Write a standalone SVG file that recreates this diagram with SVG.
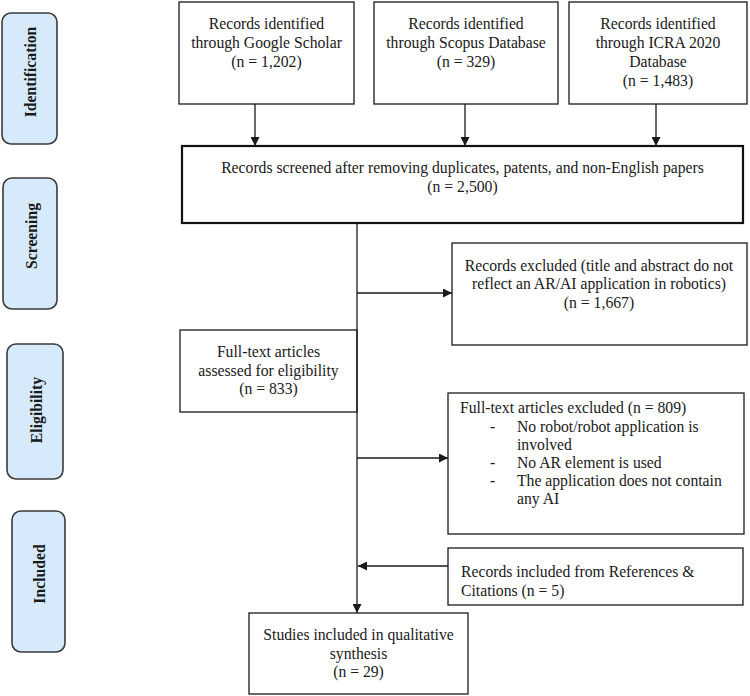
<svg xmlns="http://www.w3.org/2000/svg" width="750" height="696" viewBox="0 0 750 696">
<style>
  .box { fill: #ffffff; stroke: #1a1a1a; stroke-width: 1.3; }
  .main { fill: #ffffff; stroke: #111111; stroke-width: 2.2; }
  .phase { fill: #d7eafc; stroke: #3a3a3a; stroke-width: 1.6; }
  .t { font-family: "Liberation Serif", "Times New Roman", serif; font-size: 15.7px; fill: #1a1a1a; }
  .c { text-anchor: middle; }
  .ph { font-family: "Liberation Serif", "Times New Roman", serif; font-size: 15.7px; font-weight: bold; fill: #1a1a1a; text-anchor: middle; dominant-baseline: central; }
  .ln { stroke: #1a1a1a; stroke-width: 1.3; fill: none; }
</style>
<defs>
  <marker id="ah" viewBox="0 0 10 10" refX="10" refY="5" markerWidth="10" markerHeight="9" markerUnits="userSpaceOnUse" orient="auto">
    <path d="M0,0 L10,5 L0,10 z" fill="#1a1a1a"/>
  </marker>
</defs>

<g id="phase-identification">
  <rect class="phase" x="2" y="13" width="55" height="131" rx="9"/>
  <text class="ph" transform="translate(30,72) rotate(-90)">Identification</text>
</g>
<g id="phase-screening">
  <rect class="phase" x="3" y="178" width="54" height="131" rx="9"/>
  <text class="ph" transform="translate(31.5,236) rotate(-90)">Screening</text>
</g>
<g id="phase-eligibility">
  <rect class="phase" x="7" y="344" width="56" height="135" rx="9"/>
  <text class="ph" transform="translate(36.5,410) rotate(-90)">Eligibility</text>
</g>
<g id="phase-included">
  <rect class="phase" x="12" y="511" width="53" height="141" rx="9"/>
  <text class="ph" transform="translate(39,574) rotate(-90)">Included</text>
</g>

<g id="src-google">
  <rect class="box" x="179" y="2" width="175" height="102"/>
  <text class="t c" x="266.5" y="28.5">Records identified</text>
  <text class="t c" x="266.5" y="47.5">through Google Scholar</text>
  <text class="t c" x="266.5" y="66.5">(n = 1,202)</text>
</g>
<g id="src-scopus">
  <rect class="box" x="374" y="2" width="184" height="102"/>
  <text class="t c" x="466" y="28.5">Records identified</text>
  <text class="t c" x="466" y="47.5">through Scopus Database</text>
  <text class="t c" x="466" y="66.5">(n = 329)</text>
</g>
<g id="src-icra">
  <rect class="box" x="569" y="2" width="178" height="102"/>
  <text class="t c" x="658" y="28.5">Records identified</text>
  <text class="t c" x="658" y="47.5">through ICRA 2020</text>
  <text class="t c" x="658" y="66.5">Database</text>
  <text class="t c" x="658" y="85.5">(n = 1,483)</text>
</g>
<g id="screened">
  <rect class="main" x="182" y="146" width="561" height="77"/>
  <text class="t c" x="462.5" y="173">Records screened after removing duplicates, patents, and non-English papers</text>
  <text class="t c" x="462.5" y="192">(n = 2,500)</text>
</g>
<g id="excluded-records">
  <rect class="box" x="452" y="243" width="295" height="102"/>
  <text class="t c" x="599" y="270.5">Records excluded (title and abstract do not</text>
  <text class="t c" x="599" y="289">reflect an AR/AI application in robotics)</text>
  <text class="t c" x="599" y="307.5">(n = 1,667)</text>
</g>
<g id="fulltext">
  <rect class="box" x="180" y="330" width="177" height="82"/>
  <text class="t c" x="268.5" y="357">Full-text articles</text>
  <text class="t c" x="268.5" y="375.5">assessed for eligibility</text>
  <text class="t c" x="268.5" y="394">(n = 833)</text>
</g>
<g id="excluded-fulltext">
  <rect class="box" x="448" y="393" width="296" height="141"/>
  <text class="t" x="460" y="413">Full-text articles excluded (n = 809)</text>
  <text class="t" x="490" y="431.5">-</text>
  <text class="t" x="517" y="431.5">No robot/robot application is</text>
  <text class="t" x="517" y="449.5">involved</text>
  <text class="t" x="490" y="468">-</text>
  <text class="t" x="517" y="468">No AR element is used</text>
  <text class="t" x="490" y="486">-</text>
  <text class="t" x="517" y="486">The application does not contain</text>
  <text class="t" x="517" y="504">any AI</text>
</g>
<g id="included-refs">
  <rect class="box" x="448" y="548" width="295" height="57"/>
  <text class="t" x="461" y="577">Records included from References &amp;</text>
  <text class="t" x="461" y="595.5">Citations (n = 5)</text>
</g>
<g id="studies">
  <rect class="box" x="249" y="613" width="219" height="81"/>
  <text class="t c" x="358.5" y="640">Studies included in qualitative</text>
  <text class="t c" x="358.5" y="658.5">synthesis</text>
  <text class="t c" x="358.5" y="677">(n = 29)</text>
</g>

<g id="connectors">
  <line class="ln" x1="255" y1="104" x2="255" y2="146" marker-end="url(#ah)"/>
  <line class="ln" x1="465" y1="104" x2="465" y2="146" marker-end="url(#ah)"/>
  <line class="ln" x1="656" y1="104" x2="656" y2="146" marker-end="url(#ah)"/>
  <line class="ln" x1="357" y1="223" x2="357" y2="613" marker-end="url(#ah)"/>
  <line class="ln" x1="357" y1="293" x2="452" y2="293" marker-end="url(#ah)"/>
  <line class="ln" x1="357" y1="458" x2="448" y2="458" marker-end="url(#ah)"/>
  <line class="ln" x1="448" y1="566" x2="358" y2="566" marker-end="url(#ah)"/>
</g>
</svg>
